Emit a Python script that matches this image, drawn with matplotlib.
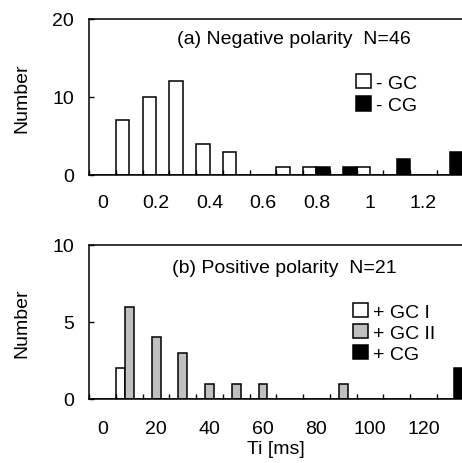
import numpy as np
import matplotlib
matplotlib.use("Agg")
import matplotlib.pyplot as plt
from matplotlib.patches import Patch

plt.rcParams['font.family'] = ['Liberation Sans', 'DejaVu Sans']
plt.rcParams['font.size'] = 14

# (a) negative polarity, Ti in ms, bins of 0.1 ms
neg_labels = ['0', '0.1', '0.2', '0.3', '0.4', '0.5', '0.6', '0.7',
              '0.8', '0.9', '1', '1.1', '1.2', '1.3']
neg_gc = [0, 7, 10, 12, 4, 3, 0, 1, 1, 0, 1, 0, 0, 0]
neg_cg = [0, 0, 0, 0, 0, 0, 0, 0, 1, 1, 0, 2, 0, 3]

# (b) positive polarity, Ti in ms, bins of 10 ms
pos_labels = ['0', '10', '20', '30', '40', '50', '60', '70',
              '80', '90', '100', '110', '120', '130']
pos_gc1 = [0, 2, 0, 0, 0, 0, 0, 0, 0, 0, 0, 0, 0, 0]
pos_gc2 = [0, 6, 4, 3, 1, 1, 1, 0, 0, 1, 0, 0, 0, 0]
pos_cg = [0, 0, 0, 0, 0, 0, 0, 0, 0, 0, 0, 0, 0, 2]

W, H = 462, 464
fig = plt.figure(figsize=(W / 100, H / 100), dpi=100)

left_px, width_px = 89.3, 374.1


def make_axes(top_px, bottom_px):
    return fig.add_axes([left_px / W, (H - bottom_px) / H,
                         width_px / W, (bottom_px - top_px) / H])


def style_axes(ax, labels, ymax, ystep, xlab_pad):
    n = len(labels)
    ax.set_xlim(-0.5, n - 0.5)
    ax.set_ylim(0, ymax)
    ax.set_yticks(np.arange(0, ymax + 1, ystep))
    ax.set_xticks(np.arange(0, n, 2))
    ax.set_xticklabels(labels[::2])
    ax.set_xticks(np.arange(-0.5, n, 1), minor=True)
    ax.tick_params(axis='x', which='major', length=0, pad=xlab_pad)
    ax.tick_params(axis='x', which='minor', direction='in', length=3.5, width=1)
    ax.tick_params(axis='y', direction='in', length=3.5, width=1, pad=11)
    ax.spines['right'].set_visible(False)
    for s in ('left', 'top', 'bottom'):
        ax.spines[s].set_linewidth(1.1)
    ax.set_ylabel('Number')
    ax.yaxis.set_label_coords(-0.158, 0.5)


x = np.arange(len(neg_labels))

# top panel
ax1 = make_axes(20, 176)
w = 0.5
ax1.bar(x - w / 2, neg_gc, width=w, color='white', edgecolor='black', linewidth=1.1)
ax1.bar(x + w / 2, neg_cg, width=w, color='black', edgecolor='black', linewidth=1.1)
style_axes(ax1, neg_labels, 20, 10, 14)
ax1.text(0.547, 0.878, '(a) Negative polarity  N=46', transform=ax1.transAxes,
         ha='center', va='center')
h1 = [Patch(facecolor='white', edgecolor='black', linewidth=1.1, label='- GC'),
      Patch(facecolor='black', edgecolor='black', linewidth=1.1, label='- CG')]
ax1.legend(handles=h1, loc='upper left', bbox_to_anchor=(0.713, 0.648),
           frameon=False, handlelength=0.75, handleheight=0.75,
           handletextpad=0.3, labelspacing=0.24, borderpad=0, borderaxespad=0)

# bottom panel
ax2 = make_axes(246, 400)
w = 1 / 3
ax2.bar(x - w, pos_gc1, width=w, color='white', edgecolor='black', linewidth=1.1)
ax2.bar(x, pos_gc2, width=w, color='#c0c0c0', edgecolor='black', linewidth=1.1)
ax2.bar(x + w, pos_cg, width=w, color='black', edgecolor='black', linewidth=1.1)
style_axes(ax2, pos_labels, 10, 5, 15)
ax2.text(0.52, 0.851, '(b) Positive polarity  N=21', transform=ax2.transAxes,
         ha='center', va='center')
h2 = [Patch(facecolor='white', edgecolor='black', linewidth=1.1, label='+ GC I'),
      Patch(facecolor='#c0c0c0', edgecolor='black', linewidth=1.1, label='+ GC II'),
      Patch(facecolor='black', edgecolor='black', linewidth=1.1, label='+ CG')]
ax2.legend(handles=h2, loc='upper left', bbox_to_anchor=(0.705, 0.625),
           frameon=False, handlelength=0.75, handleheight=0.75,
           handletextpad=0.3, labelspacing=0.17, borderpad=0, borderaxespad=0)
ax2.set_xlabel('Ti [ms]', labelpad=2)

fig.savefig('out.png', dpi=100)
